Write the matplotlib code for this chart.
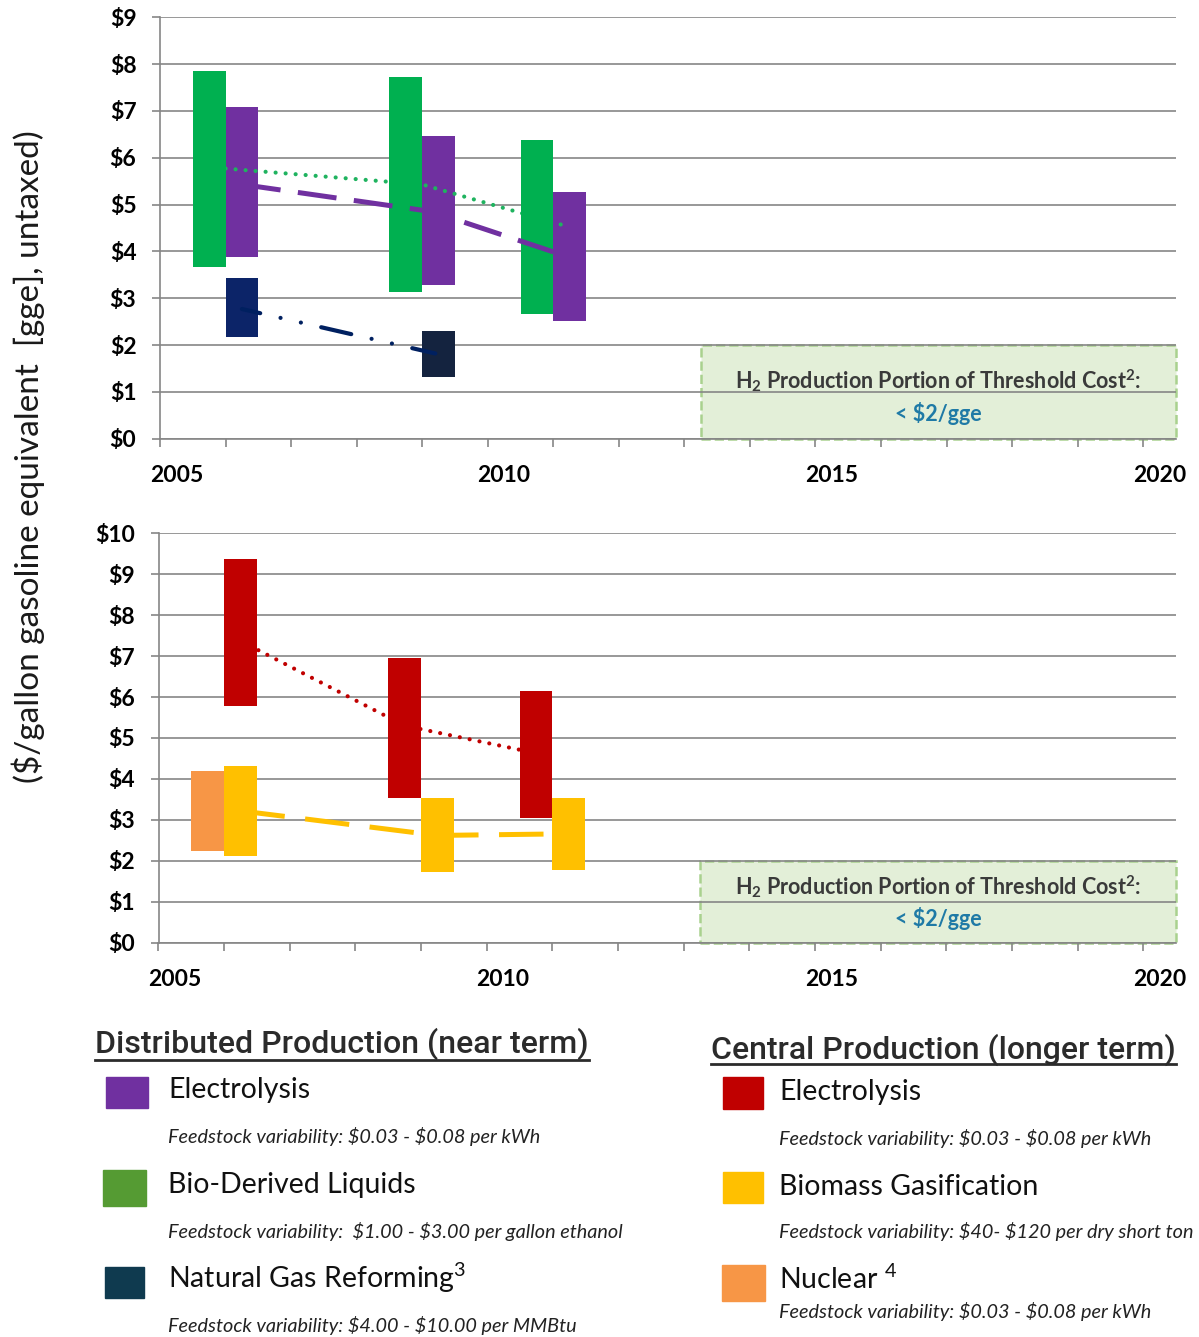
import matplotlib
matplotlib.use('Agg')
import matplotlib.pyplot as plt
from matplotlib.patches import Rectangle
from matplotlib.lines import Line2D
from matplotlib.transforms import IdentityTransform

W, H = 1199, 1337

plt.rcParams['font.family'] = ['Lato', 'DejaVu Sans']
plt.rcParams['mathtext.fontset'] = 'custom'
plt.rcParams['mathtext.rm'] = 'Lato'
plt.rcParams['mathtext.it'] = 'Lato:italic'
plt.rcParams['mathtext.bf'] = 'Lato:bold'

# --- data -------------------------------------------------------------
year_labels = [2005, 2010, 2015, 2020]

# distributed production (top panel): cost ranges in $/gge
dist_elec_x = [2006.0, 2009.0, 2011.0]
dist_elec_low = [3.88, 3.29, 2.51]
dist_elec_high = [7.08, 6.46, 5.27]

bio_x = [2005.5, 2008.5, 2010.5]
bio_low = [3.67, 3.13, 2.66]
bio_high = [7.86, 7.73, 6.38]

ngr_x = [2006.0, 2009.0]
ngr_low = [2.18, 1.32]
ngr_high = [3.44, 2.30]

# trend lines (top)
bio_trend_x = [2005.75, 2008.75, 2011.0]
bio_trend_y = [5.77, 5.43, 4.52]
elec_trend_x = [2006.0, 2008.9, 2010.75]
elec_trend_y = [5.43, 4.85, 3.99]
ngr_trend_x = [2006.0, 2008.95]
ngr_trend_y = [2.77, 1.82]

# central production (bottom panel)
cen_elec_x = [2006.0, 2008.5, 2010.5]
cen_elec_low = [5.79, 3.54, 3.04]
cen_elec_high = [9.37, 6.96, 6.16]

biomass_x = [2006.0, 2009.0, 2011.0]
biomass_low = [2.12, 1.72, 1.78]
biomass_high = [4.32, 3.53, 3.53]

nuclear_x = [2005.5]
nuclear_low = [2.24]
nuclear_high = [4.20]

# trend lines (bottom)
cen_elec_trend_x = [2006.0, 2008.5, 2010.5]
cen_elec_trend_y = [7.37, 5.30, 4.63]
biomass_trend_x = [2006.0, 2009.0, 2011.0]
biomass_trend_y = [3.22, 2.62, 2.66]

# threshold cost target
target_start, target_end, target_cost = 2013.0, 2020.25, 2.0

GRID = '#868686'


def px(x, y):
    return x / W, 1 - y / H


def style_axis(ax, ymax):
    ax.set_xlim(2004.75, 2020.25)
    ax.set_ylim(0, ymax)
    ax.set_yticks(range(ymax + 1))
    ax.set_yticklabels(['$' + str(v) for v in range(ymax + 1)],
                       fontsize=16.5, fontweight='bold')
    ax.set_xticks(year_labels)
    ax.set_xticklabels([str(y) for y in year_labels], fontsize=16.5, fontweight='bold')
    ax.set_xticks([2004.75 + k for k in range(16)], minor=True)
    ax.tick_params(axis='x', which='major', length=0, pad=19)
    ax.tick_params(axis='x', which='minor', length=6, width=1.2, color=GRID)
    ax.tick_params(axis='y', length=6, width=1.2, color=GRID, pad=11)
    ax.grid(axis='y', color=GRID, lw=1.2)
    ax.set_axisbelow(True)
    for s in ['top', 'right']:
        ax.spines[s].set_visible(False)
    for s in ['left', 'bottom']:
        ax.spines[s].set_color(GRID)
        ax.spines[s].set_linewidth(1.2)


def target_box(ax, y1, y2):
    ax.add_patch(Rectangle((target_start, 0), target_end - target_start, target_cost,
                           facecolor='#e3efd8', edgecolor='#a9d18e', ls='--', lw=1.8,
                           zorder=0.4, clip_on=False))
    xc = (target_start + target_end) / 2
    ax.text(xc, y1, r'H$_{\mathbf{2}}$ Production Portion of Threshold Cost$^{\mathbf{2}}$:',
            ha='center', va='center', fontsize=15.5, fontweight='bold', color='#3a3a3a')
    ax.text(xc, y2, '< $2/gge', ha='center', va='center', fontsize=15.5,
            fontweight='bold', color='#1f7aa6')


def range_bars(ax, x, low, high, color, z):
    heights = [h - l for l, h in zip(low, high)]
    ax.bar(x, heights, bottom=low, width=0.5, color=color, zorder=z)


fig = plt.figure(figsize=(W / 100, H / 100), dpi=100)

# --- top panel ----------------------------------------------------------
ax1 = fig.add_axes([160 / W, 1 - 438.7 / H, 1016 / W, 421.4 / H])
style_axis(ax1, 9)
target_box(ax1, 1.25, 0.53)
range_bars(ax1, dist_elec_x, dist_elec_low, dist_elec_high, '#7030a0', 2)
ax1.plot(bio_trend_x, bio_trend_y, color='#1fb35f', lw=3, dashes=(0.01, 2.4),
         dash_capstyle='round', zorder=3)
range_bars(ax1, bio_x, bio_low, bio_high, '#00b050', 4)
range_bars(ax1, ngr_x, ngr_low, ngr_high, ['#0c2468', '#14233f'], 2)
ax1.plot(elec_trend_x, elec_trend_y, color='#7030a0', lw=3.6, dashes=(7.8, 3.5), zorder=5)
# long dash - dot - dot
ax1.plot(ngr_trend_x, ngr_trend_y, color='#002060', lw=3, zorder=5,
         linestyle=(2.9, (7.4, 5, 0.01, 5, 0.01, 5)), dash_capstyle='round')

# --- bottom panel -------------------------------------------------------
ax2 = fig.add_axes([158.5 / W, 1 - 942.7 / H, 1017.5 / W, 409.4 / H])
style_axis(ax2, 10)
target_box(ax2, 1.38, 0.6)
range_bars(ax2, nuclear_x, nuclear_low, nuclear_high, '#f79646', 2)
range_bars(ax2, cen_elec_x, cen_elec_low, cen_elec_high, '#c00000', 2)
range_bars(ax2, biomass_x, biomass_low, biomass_high, '#ffc000', 2)
ax2.plot(cen_elec_trend_x, cen_elec_trend_y, color='#c00000', lw=3, dashes=(0.01, 2.4),
         dash_capstyle='round', zorder=3)
ax2.plot(biomass_trend_x, biomass_trend_y, color='#ffc000', lw=3.6, dashes=(8.9, 4.1), zorder=3)

# y axis title
fig.text(*px(28, 457), '($/gallon gasoline equivalent  [gge], untaxed)', rotation=90,
         ha='center', va='center', fontsize=24, color='#1a1a1a')

# --- legend -------------------------------------------------------------
renderer = fig.canvas.get_renderer()


def heading(x, y, text, width, uy):
    # fit the heading to the width it has in the original
    t = fig.text(*px(x, y), text, fontsize=24, color='#2b2b2b', va='baseline',
                 family=['Roboto', 'Liberation Sans'], fontweight='medium')
    bb = t.get_window_extent(renderer)
    t.set_fontsize(24 * width / bb.width)
    bb = t.get_window_extent(renderer)
    fig.add_artist(Line2D([bb.x0, bb.x1], [H - uy, H - uy], color='#2b2b2b', lw=2,
                          transform=IdentityTransform()))


def item(sx0, sy0, sx1, sy1, color, tx, ty, label, iy, note):
    fig.add_artist(Rectangle(px(sx0, sy1), (sx1 - sx0) / W, (sy1 - sy0) / H,
                             transform=fig.transFigure, color=color))
    fig.text(*px(tx, ty), label, fontsize=20.5, va='baseline', color='#111111')
    fig.text(*px(tx, iy), note, fontsize=14.3, style='italic', va='baseline', color='#222222')


heading(95, 1053, 'Distributed Production (near term)', 493, 1060)
heading(711, 1059, 'Central Production (longer term)', 465, 1064)

item(106, 1077, 148, 1108, '#7030a0', 168, 1098, 'Electrolysis',
     1143, r'Feedstock variability: \$0.03 - \$0.08 per kWh')
item(103, 1170, 146, 1206, '#559b33', 168, 1193, 'Bio-Derived Liquids',
     1238, r'Feedstock variability:  \$1.00 - \$3.00 per gallon ethanol')
item(105, 1267, 144, 1298, '#0f3a4f', 168, 1288, r'Natural Gas Reforming$^{3}$',
     1332, r'Feedstock variability: \$4.00 - \$10.00 per MMBtu')

item(723, 1077, 763, 1109, '#c00000', 779, 1100, 'Electrolysis',
     1145, r'Feedstock variability: \$0.03 - \$0.08 per kWh')
item(723, 1172, 763, 1203, '#ffc000', 779, 1195, 'Biomass Gasification',
     1238, r'Feedstock variability: \$40- \$120 per dry short ton')
item(722, 1265, 765, 1301, '#f79646', 779, 1289, r'Nuclear $^{4}$',
     1318, r'Feedstock variability: \$0.03 - \$0.08 per kWh')

fig.savefig('out.png', dpi=100)
